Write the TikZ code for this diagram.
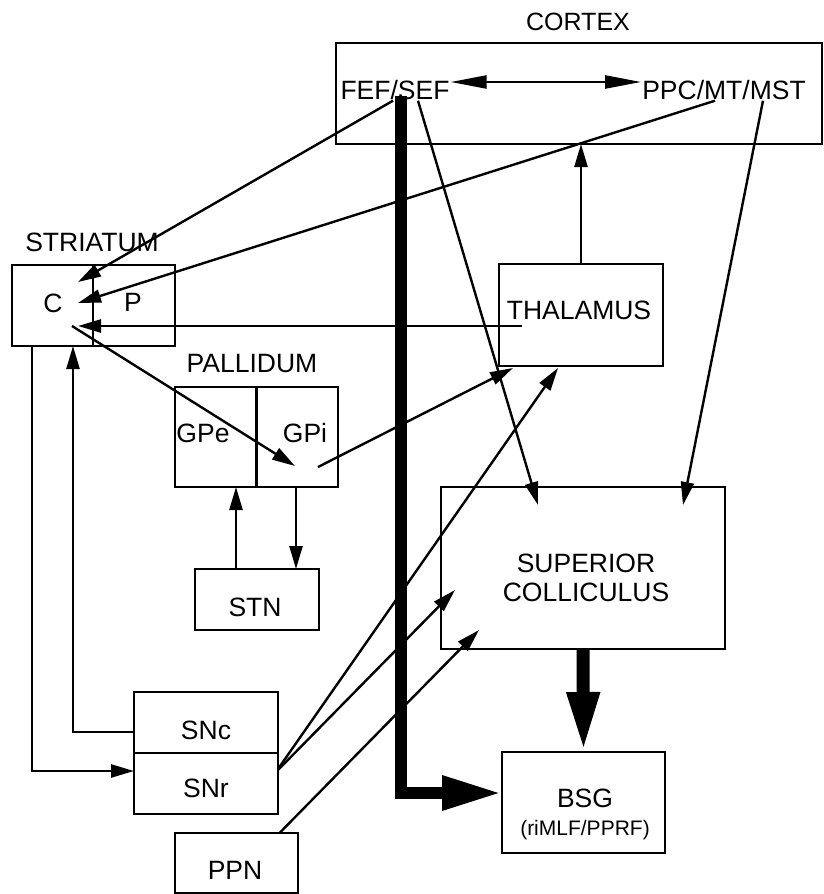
\documentclass[tikz,border=0pt]{standalone}
\usepackage{fontspec}
\setmainfont{Liberation Sans}
\usetikzlibrary{arrows.meta}
\begin{document}
\begin{tikzpicture}[x=1pt,y=-1pt,
  box/.style={draw, line width=2.3pt, inner sep=0pt, outer sep=0pt},
  lbl/.style={font=\fontsize{26.5}{30}\selectfont, text height=19pt, text depth=0pt, inner sep=1pt},
  ln/.style={line width=2.4pt},
  arr/.style={ln, -{Triangle[length=23pt,width=13pt]}},
  dbl/.style={ln, {Triangle[length=36pt,width=13pt]}-{Triangle[length=36pt,width=13pt]}},
  big/.style={line width=12pt, -{Triangle[length=60pt,width=32pt]}},
  big2/.style={line width=13pt, -{Triangle[length=60pt,width=30pt]}},
]
\useasboundingbox (0,0) rectangle (824,894);
\fill[white] (0,0) rectangle (824,894);

% boxes
\node[box, minimum width=486pt, minimum height=101pt] (cortex) at (579,93.5) {};
\node[box, minimum width=163pt, minimum height=81pt] (str) at (93.5,305.5) {};
\node[box, minimum width=163pt, minimum height=100pt] (pall) at (256.5,437) {};
\node[box, minimum width=164pt, minimum height=102pt] (thal) at (581,315) {};
\node[box, minimum width=284pt, minimum height=162pt] (sc) at (583,568) {};
\node[box, minimum width=124pt, minimum height=61pt] (stn) at (257,599.5) {};
\node[box, minimum width=144pt, minimum height=122pt] (sn) at (206,753) {};
\node[box, minimum width=163pt, minimum height=101pt] (bsg) at (583.5,802.5) {};
\node[box, minimum width=123pt, minimum height=60pt] (ppn) at (236.5,863) {};

% dividers
\draw[ln] ([xshift=-0.5pt]str.north) -- ([xshift=-0.5pt]str.south);
\draw[ln] (pall.north) -- (pall.south);
\draw[ln] (sn.west) -- (sn.east);

% labels
\node[lbl, font=\fontsize{25}{29}\selectfont, text height=17pt] (cortexl) at (578,22) {CORTEX};
\node[lbl] (fef) at (395,90) {FEF/SEF};
\node[lbl] (ppc) at (724,90) {PPC/MT/MST};
\node[lbl] (strl) at (92,242) {STRIATUM};
\node[lbl] (c) at (53,303) {C};
\node[lbl] (p) at (133,302) {P};
\node[lbl] (palll) at (252,363) {PALLIDUM};
\node[lbl] (gpe) at (203,433) {GPe};
\node[lbl] (gpi) at (305,433) {GPi};
\node[lbl] (thall) at (579,310) {THALAMUS};
\node[lbl] (sc1) at (586,563) {SUPERIOR};
\node[lbl] (sc2) at (586,592) {COLLICULUS};
\node[lbl] (stnl) at (255,607) {STN};
\node[lbl] (snc) at (206,730) {SNc};
\node[lbl] (snr) at (206,788) {SNr};
\node[lbl] (bsgl) at (585,798) {BSG};
\node[lbl, font=\fontsize{21}{25}\selectfont, text height=15pt] (rimlf) at (585,828) {(riMLF/PPRF)};
\node[lbl] (ppnl) at (235,870) {PPN};

% endpoints
\coordinate (cA) at (78,282);
\coordinate (cB) at (78,303);
\coordinate (cC) at (78,326);
\coordinate (cS) at (72,326);
\coordinate (thalC) at (522,326);
\coordinate (gpiT) at (295,466);
\coordinate (gpiS) at (318,467);
\coordinate (thalG) at (513,368);
\coordinate (thalS) at (558,368);
\coordinate (scF) at (538,505);
\coordinate (scP) at (683,505);
\coordinate (scS) at (455,590);
\coordinate (scN) at (479,630);
\coordinate (fefbot) at (401,96);

% connectors
\draw[dbl] ([yshift=8pt]fef.east) -- ([yshift=8pt]ppc.west);
\draw[big] (fefbot) |- ([yshift=9.5pt]bsg.west);
\draw[arr] ([xshift=-2pt]fef.south) -- (cA);
\draw[arr] ([xshift=23pt]fef.south) -- (scF);
\draw[arr] ([xshift=-9pt]ppc.south) -- (cB);
\draw[arr] ([xshift=39pt]ppc.south) -- (scP);
\draw[arr] (thal.north) -- (thal.north |- cortex.south);
\draw[arr] (thalC) -- (cC);
\draw[arr] (cS) -- (gpiT);
\draw[arr] (gpiS) -- (thalG);
\draw[arr] ([xshift=39.5pt]pall.south) -- ([xshift=39pt]stn.north);
\draw[arr] ([xshift=-21pt]stn.north) -- ([xshift=-20.5pt]pall.south);
\draw[arr] ([yshift=21pt]sn.west) -| ([xshift=-20.5pt]str.south);
\draw[arr] ([xshift=-61.5pt]str.south) |- ([yshift=-18pt]sn.west);
\draw[arr] ([yshift=-16pt]sn.east) -- (thalS);
\draw[arr] ([yshift=-17pt]sn.east) -- (scS);
\draw[arr] ([xshift=43pt]ppn.north) -- (scN);
\draw[big2] (sc.south) -- (bsg.north);
\end{tikzpicture}
\end{document}
